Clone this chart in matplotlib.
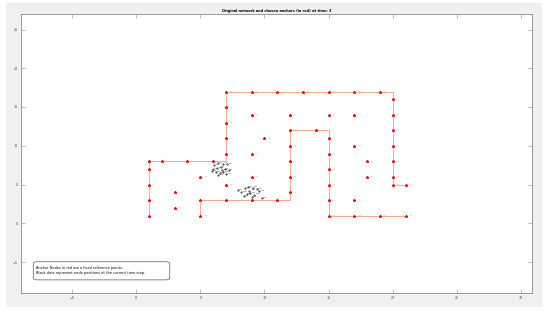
import matplotlib
matplotlib.use("Agg")
import matplotlib.pyplot as plt
from matplotlib.patches import FancyBboxPatch, Rectangle

# network paths (orange lines)
path1_x = [1, 1, 7, 7, 20, 20, 21]
path1_y = [1, 8, 8, 17, 17, 5, 5]
path2_x = [5, 5, 12, 12, 15, 15, 21]
path2_y = [1, 3, 3, 12, 12, 1, 1]

# anchor nodes (red)
anchor_x = [1, 1, 1, 1, 1, 2, 4, 6, 3, 3, 5, 5, 5,
            7, 7, 7, 7, 7, 7, 7, 9, 9, 9, 9, 9, 10, 11, 11, 13,
            15, 17, 19, 20, 20, 20, 20, 20, 20, 20, 21,
            12, 12, 12, 12, 12, 12, 14, 15, 15, 15, 15, 15, 15, 15,
            17, 17, 17, 17, 18, 18, 19, 21]
anchor_y = [1, 3, 5, 7, 8, 8, 8, 8, 4, 2, 1, 3, 6,
            3, 5, 9, 11, 13, 15, 17, 17, 14, 9, 6, 3, 11, 17, 3, 17,
            17, 17, 17, 16, 14, 12, 10, 8, 6, 5, 5,
            14, 12, 10, 8, 6, 4, 12, 14, 11, 9, 7, 5, 3, 1,
            14, 10, 3, 1, 8, 6, 1, 1]

# current node positions (black dots)
node_x = [6.1, 6.4, 6.8, 7.1, 6.0, 6.3, 6.6, 6.9, 7.2, 6.2, 6.5, 6.8, 7.0, 6.4, 6.7, 5.9,
          7.9, 8.2, 8.5, 8.8, 9.1, 9.4, 8.6, 8.9, 9.2, 9.6, 8.4, 9.0, 9.8, 8.7]
node_y = [7.5, 7.8, 7.7, 7.6, 7.0, 7.1, 7.2, 7.0, 6.9, 6.6, 6.5, 6.6, 6.3, 6.2, 6.9, 6.7,
          4.3, 4.0, 4.5, 4.2, 4.6, 4.4, 3.8, 3.9, 3.7, 4.1, 3.5, 3.4, 3.2, 4.7]

x_ticks = [-5, 0, 5, 10, 15, 20, 25, 30]
y_ticks = [-5, 0, 5, 10, 15, 20, 25]

title = "Original network and chosen anchors (in red) at time: 3"
note = ("Anchor Nodes in red are a fixed reference points.\n"
        "Black dots represent node positions at the current time step.")

fig = plt.figure(figsize=(5.5, 3.12), dpi=100, facecolor="white")
# grey matlab-like figure background
bg = Rectangle((6 / 550, 1 - 307 / 312), 536 / 550, 304 / 312,
               transform=fig.transFigure, facecolor="#f0f0f0",
               edgecolor="none", zorder=-10)
fig.add_artist(bg)
ax = fig.add_axes([20.7 / 550, 19 / 312, 511.3 / 550, 279 / 312])
ax.set_zorder(5)
ax.set_facecolor("white")

ax.plot(path1_x, path1_y, color="#f0a07c", lw=0.6, zorder=1)
ax.plot(path2_x, path2_y, color="#f0a07c", lw=0.6, zorder=1)

for i, (x, y) in enumerate(zip(anchor_x, anchor_y)):
    ax.text(x + 0.25, y, f"A{i + 1}", fontsize=1.5, color="#b0b0b0",
            va="center", ha="left", zorder=2)
ax.plot(anchor_x, anchor_y, "*", color="red", mec="red", mfc="red",
        ms=2.0, mew=0.5, zorder=3)

ax.plot(node_x, node_y, ".", color="black", ms=0.8, zorder=4)
for i, (x, y) in enumerate(zip(node_x, node_y)):
    ax.text(x + 0.1, y + 0.1, f"N{i + 1}", fontsize=1.5, color="#333333",
            va="center", ha="left", zorder=4)

ax.set_xlim(-9, 30.85)
ax.set_ylim(-9, 27)
ax.set_xticks(x_ticks)
ax.set_yticks(y_ticks)
ax.tick_params(direction="in", length=3, width=0.4, colors="#8a8a8a",
               labelsize=2.4, labelcolor="#444444", top=True, right=True, pad=2)
for s in ax.spines.values():
    s.set_color("#8a8a8a")
    s.set_linewidth(0.6)

ax.set_title(title, fontsize=2.5, fontweight="bold", pad=1.5)

box = FancyBboxPatch((0.0246, 0.047), 0.267, 0.065, transform=ax.transAxes,
                     boxstyle="round,pad=0,rounding_size=0.008",
                     facecolor="white", edgecolor="#555555", lw=0.5, zorder=5)
ax.add_patch(box)
ax.text(0.03, 0.0795, note, transform=ax.transAxes, fontsize=2.5,
        va="center", ha="left", linespacing=1.3, zorder=6)

plt.savefig("out.png", dpi=100, facecolor=fig.get_facecolor())
